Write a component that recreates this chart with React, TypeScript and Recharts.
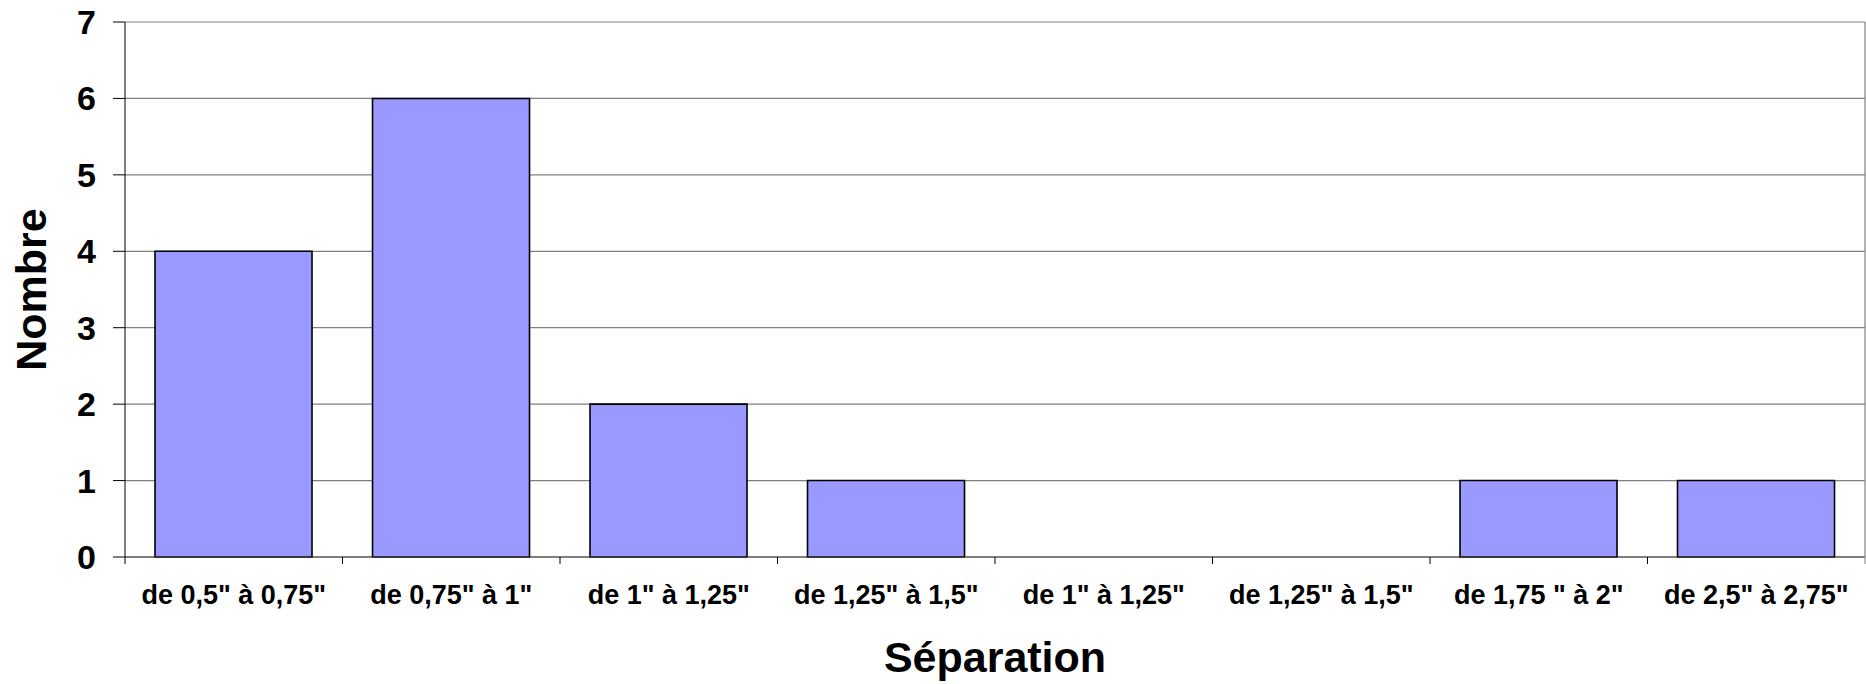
import { BarChart, Bar, XAxis, YAxis, CartesianGrid } from 'recharts';

const categories = [
  'de 0,5" à 0,75"',
  'de 0,75" à 1"',
  'de 1" à 1,25"',
  'de 1,25" à 1,5"',
  'de 1" à 1,25"',
  'de 1,25" à 1,5"',
  'de 1,75 " à 2"',
  'de 2,5" à 2,75"',
];
const counts = [4, 6, 2, 1, 0, 0, 1, 1];
const yTicks = [0, 1, 2, 3, 4, 5, 6, 7];

const data = categories.map((name, i) => ({ name, value: counts[i] }));

const FONT = '"Liberation Sans", Arial, sans-serif';

// x ticks sit on the category boundaries, labels stay centred
const CategoryTick = (props: any) => {
  const { x, y, payload, index, visibleTicksCount } = props;
  const half = payload && payload.offset ? payload.offset : 108.75;
  return (
    <g>
      <line x1={x - half} x2={x - half} y1={y} y2={y + 7} stroke="#000" strokeWidth={1} />
      {index === visibleTicksCount - 1 && (
        <line x1={x + half} x2={x + half} y1={y} y2={y + 7} stroke="#808080" strokeWidth={1} />
      )}
      <text
        x={x}
        y={y + 47}
        textAnchor="middle"
        fontSize={27}
        fontWeight="bold"
        fontFamily={FONT}
        fill="#000"
      >
        {payload.value}
      </text>
    </g>
  );
};

const NombreLabel = (props: any) => {
  const vb = props.viewBox ?? { x: 0, y: 22, width: 125, height: 535 };
  const cx = vb.x + 31;
  const cy = vb.y + vb.height / 2;
  return (
    <text
      x={cx}
      y={cy}
      transform={`rotate(-90 ${cx} ${cy})`}
      textAnchor="middle"
      dominantBaseline="central"
      fontSize={43}
      fontWeight="bold"
      fontFamily={FONT}
      fill="#000"
    >
      Nombre
    </text>
  );
};

export default function App() {
  return (
    <div style={{ position: 'absolute', left: 0, top: 0, width: 1866, height: 684, background: '#fff' }}>
      <BarChart
        width={1866}
        height={684}
        data={data}
        margin={{ top: 22, right: 0, bottom: 0, left: 0 }}
        barCategoryGap="13.8%"
      >
        <CartesianGrid horizontal={true} vertical={false} stroke="#808080" strokeWidth={1.2} />
        <XAxis
          dataKey="name"
          height={127}
          tickLine={false}
          tickSize={0}
          tickMargin={0}
          axisLine={{ stroke: '#404040', strokeWidth: 1.2 }}
          tick={<CategoryTick />}
          interval={0}
          label={{
            value: 'Séparation',
            position: 'insideBottom',
            offset: 12,
            fontSize: 43,
            fontWeight: 'bold',
            fontFamily: FONT,
            fill: '#000',
          }}
        />
        <YAxis
          width={125}
          domain={[0, 7]}
          ticks={yTicks}
          interval={0}
          tickSize={12}
          tickMargin={17}
          axisLine={{ stroke: '#000', strokeWidth: 1 }}
          tickLine={{ stroke: '#000', strokeWidth: 1 }}
          tick={{ fill: '#000', fontSize: 34, fontWeight: 'bold', fontFamily: FONT }}
          label={{ content: <NombreLabel /> }}
        />
        <YAxis
          yAxisId="right"
          orientation="right"
          width={1}
          domain={[0, 7]}
          tick={false}
          tickLine={false}
          axisLine={{ stroke: '#808080', strokeWidth: 1.2 }}
        />
        <Bar
          dataKey="value"
          fill="#9999FF"
          stroke="#000"
          strokeWidth={1.6}
          isAnimationActive={false}
        />
      </BarChart>
    </div>
  );
}
